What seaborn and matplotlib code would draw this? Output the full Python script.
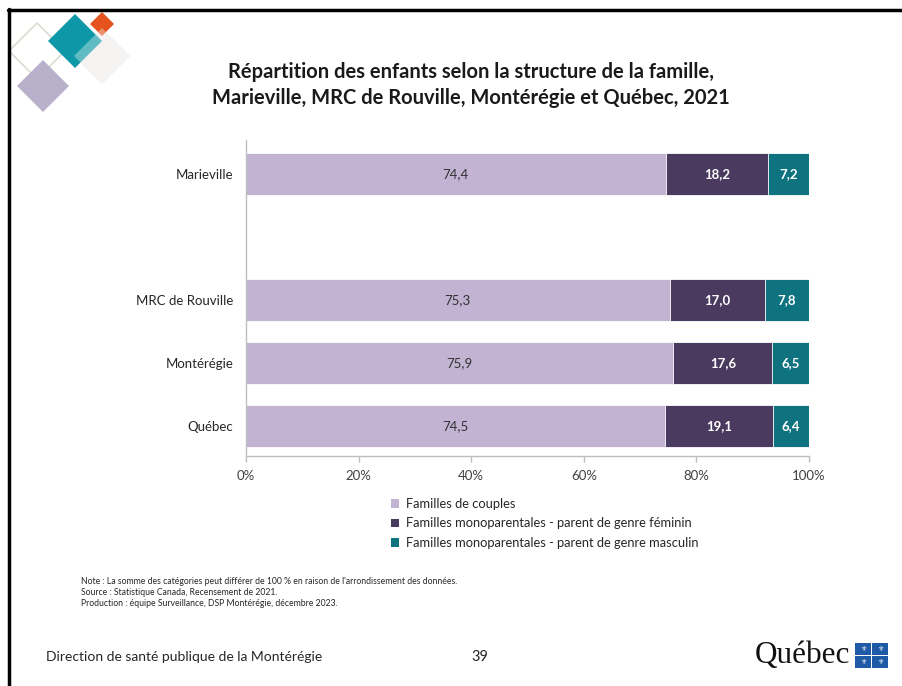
import numpy as np
import pandas as pd
import seaborn as sns
import matplotlib
matplotlib.use("Agg")
import matplotlib.pyplot as plt
from matplotlib.patches import Polygon, Rectangle, Patch
from matplotlib.lines import Line2D

# ---------------- data ----------------
regions = ["Marieville", "MRC de Rouville", "Montérégie", "Québec"]
order = ["Marieville", "", "MRC de Rouville", "Montérégie", "Québec"]
series = ["Familles de couples",
          "Familles monoparentales - parent de genre féminin",
          "Familles monoparentales - parent de genre masculin"]
couples = [74.4, 75.3, 75.9, 74.5]
feminin = [18.2, 17.0, 17.6, 19.1]
masculin = [7.2, 7.8, 6.5, 6.4]
xticks = [0, 20, 40, 60, 80, 100]
xtick_labels = ["0%", "20%", "40%", "60%", "80%", "100%"]
colors = ["#C1B3D1", "#4B3A5F", "#0F737F"]
title = ("Répartition des enfants selon la structure de la famille,\n"
         "Marieville, MRC de Rouville, Montérégie et Québec, 2021")
notes = ["Note : La somme des catégories peut différer de 100 % en raison de l'arrondissement des données.",
         "Source : Statistique Canada, Recensement de 2021.",
         "Production : équipe Surveillance, DSP Montérégie, décembre 2023."]
footer_left = "Direction de santé publique de la Montérégie"
page_num = "39"

# ---------------- figure ----------------
sns.set_theme(style="white")
plt.rcParams["font.family"] = ["Lato", "DejaVu Sans"]

W, H = 902, 686
fig = plt.figure(figsize=(W / 100, H / 100), dpi=100)
fig.patch.set_facecolor("white")


def fx(x):
    return x / W


def fy(y):
    return 1 - y / H


# chart axes
y_top_px, y_bot_px = 140, 456
ax = fig.add_axes([fx(246), fy(y_bot_px), fx(809) - fx(246), (y_bot_px - y_top_px) / H])

c = np.array(couples)
f = np.array(feminin)
m = np.array(masculin)
tot = c + f + m
pc, pf, pm = c / tot * 100, f / tot * 100, m / tot * 100
df = pd.DataFrame({"region": regions,
                   "c1": pc, "c2": pc + pf, "c3": pc + pf + pm})

bw = 42 / 63
for col, colr in zip(["c3", "c2", "c1"], colors[::-1]):
    sns.barplot(data=df, y="region", x=col, order=order, color=colr,
                saturation=1, width=bw, orient="h", ax=ax,
                edgecolor="white", linewidth=0.6, errorbar=None)

for i, r in enumerate(regions):
    yi = order.index(r)
    ax.text(pc[i] / 2, yi, f"{couples[i]:.1f}".replace(".", ","),
            ha="center", va="center", fontsize=9.5, color="#333333")
    ax.text(pc[i] + pf[i] / 2, yi, f"{feminin[i]:.1f}".replace(".", ","),
            ha="center", va="center", fontsize=9.5, color="white", fontweight="bold")
    ax.text(pc[i] + pf[i] + pm[i] / 2, yi, f"{masculin[i]:.1f}".replace(".", ","),
            ha="center", va="center", fontsize=9.5, color="white", fontweight="bold")

ax.set_xlim(0, 100)
ax.set_ylim(4 + (y_bot_px - 426) / 63, -(174 - y_top_px) / 63)
ax.set_xticks(xticks)
ax.set_xticklabels(xtick_labels, fontsize=9.5, color="#404040")
ax.set_yticks(range(len(order)))
ax.set_yticklabels(order, fontsize=9.5, color="#262626")
ax.set_xlabel("")
ax.set_ylabel("")
for s in ["top", "right"]:
    ax.spines[s].set_visible(False)
for s in ["left", "bottom"]:
    ax.spines[s].set_color("#BFBFBF")
    ax.spines[s].set_linewidth(1)
ax.tick_params(axis="x", length=4, width=1, color="#BFBFBF", pad=6, direction="out", bottom=True)
ax.tick_params(axis="y", length=0, pad=9)
ax.grid(False)

# title
fig.text(fx(471), fy(85), title, ha="center", va="center", fontsize=14.5,
         fontweight="bold", color="#1a1a1a", linespacing=1.35)

# legend
handles = [Patch(facecolor=cl, edgecolor="none") for cl in colors]
fig.legend(handles, series, loc="upper left", bbox_to_anchor=(fx(391), fy(498)),
           frameon=False, fontsize=9.3, handlelength=0.65, handleheight=0.65,
           handletextpad=0.5, labelspacing=0.58, borderaxespad=0, borderpad=0,
           labelcolor="#262626")

# notes
for k, t in enumerate(notes):
    fig.text(fx(81), fy(581 + k * 11.5), t, ha="left", va="center", fontsize=6.2, color="#262626")

# footer
fig.text(fx(46), fy(657), footer_left, ha="left", va="center", fontsize=10, color="#262626")
fig.text(fx(480), fy(657), page_num, ha="center", va="center", fontsize=10.5, color="#262626")
fig.text(fx(755), fy(656), "Québec", ha="left", va="center", fontsize=22.5,
         family=["Liberation Serif", "DejaVu Serif"], color="#111111")
blue = "#1F5AA6"
for (x0, y0) in [(855, 643), (872, 643), (855, 656), (872, 656)]:
    fig.patches.append(Rectangle((fx(x0), fy(y0 + 11.5)), 15.5 / W, 11.5 / H,
                                 transform=fig.transFigure, facecolor=blue,
                                 edgecolor="none"))
    fig.text(fx(x0 + 7.75), fy(y0 + 6), "⚜", ha="center", va="center",
             fontsize=5, color="white", family=["DejaVu Sans"])

# decorative logo (diamonds)
def diamond(cx, cy, r, **kw):
    pts = [(fx(cx), fy(cy - r)), (fx(cx + r), fy(cy)), (fx(cx), fy(cy + r)), (fx(cx - r), fy(cy))]
    p = Polygon(pts, closed=True, transform=fig.transFigure, **kw)
    fig.patches.append(p)


diamond(37, 51, 28, facecolor="none", edgecolor="#D8DDD0", linewidth=1.2)
diamond(43, 86, 26, facecolor="#B9B1CB", edgecolor="none")
diamond(102, 56, 28, facecolor="#EFEDEB", edgecolor="none")
diamond(75, 41, 27, facecolor="#0E97A6", edgecolor="none")
diamond(102, 24, 12, facecolor="#E5541F", edgecolor="none")
diamond(102, 56, 28, facecolor="#FFFFFF", alpha=0.35, edgecolor="none")

# page borders
fig.add_artist(Line2D([fx(8), 1], [fy(10), fy(10)], transform=fig.transFigure,
                      color="black", linewidth=2.5))
fig.add_artist(Line2D([fx(9), fx(9)], [fy(9), 0], transform=fig.transFigure,
                      color="black", linewidth=2.5))

fig.savefig("out.png", dpi=100)
